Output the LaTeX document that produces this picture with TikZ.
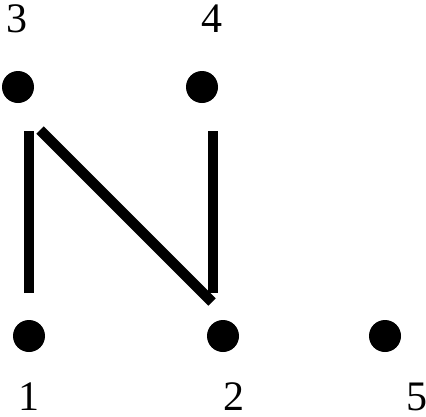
\documentclass[tikz,border=0pt]{standalone}
\usepackage{fontspec}
\setmainfont{Liberation Serif}
\usepackage{tikz}
\usetikzlibrary{positioning}

\tikzset{
  vertex/.style={circle,fill=black,inner sep=0pt,minimum size=32pt},
  vlabel/.style={inner sep=0pt,font=\fontsize{42}{42}\selectfont},
  edge/.style={line width=10.5pt,line cap=butt}
}

\begin{document}
\begin{tikzpicture}[x=1pt,y=-1pt]
  \useasboundingbox (0,0) rectangle (426,416);
  % points
  \node[vertex] (n3) at (18,87) {};
  \node[vertex] (n4) at (202,87) {};
  \node[vertex] (n1) at (29,336) {};
  \node[vertex] (n2) at (223,336) {};
  \node[vertex] (n5) at (385,336) {};
  % numbers
  \node[vlabel] (l3) at (17,19) {3};
  \node[vlabel] (l4) at (212,19) {4};
  \node[vlabel] (l1) at (29,397) {1};
  \node[vlabel] (l2) at (234,397) {2};
  \node[vlabel] (l5) at (417,397) {5};
  % strokes
  \coordinate (a1) at (29,293);  \coordinate (a3) at (29,131);
  \coordinate (b3) at (40,130);  \coordinate (b2) at (212,302);
  \coordinate (c2) at (213,293); \coordinate (c4) at (213,131);
  \draw[edge] (a1) -- (a3);
  \draw[edge] (b3) -- (b2);
  \draw[edge] (c2) -- (c4);
\end{tikzpicture}
\end{document}
